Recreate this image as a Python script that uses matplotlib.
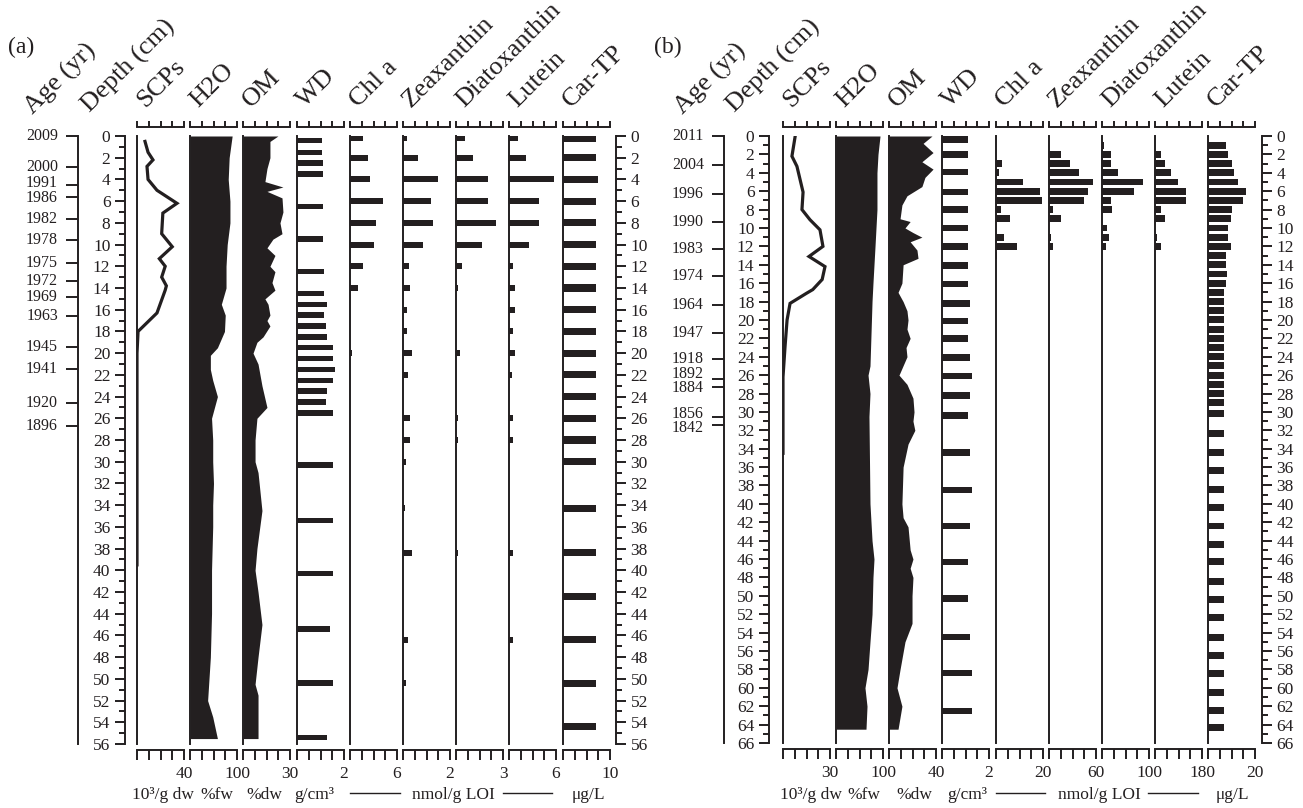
import numpy as np
import matplotlib
matplotlib.use('Agg')
import matplotlib.pyplot as plt
from matplotlib.lines import Line2D
from matplotlib.transforms import blended_transform_factory

plt.rcParams['font.family'] = ['Liberation Serif', 'DejaVu Serif']
INK = '#231f20'
W, H = 1303, 808

# ---------------- panel (a) ----------------
a_age_years = [2009, 2000, 1991, 1986, 1982, 1978, 1975, 1972, 1969, 1963, 1945, 1941, 1920, 1896]
a_age_depth = [0, 2.85, 4.5, 5.6, 7.6, 9.6, 11.7, 13.4, 14.8, 16.6, 19.4, 21.5, 24.6, 26.7]
a_age_nudge = [0, 0, -2, 1, 0, 0, 0, 0, 0, 0, 0, 0, 0, 0]   # label shift in px, + is down

a_scp_depth = [0.5, 1.5, 2.2, 2.8, 4.0, 5.0, 6.2, 7.1, 9.0, 10.2, 11.3, 12.0, 13.0, 13.8, 14.2, 16.3, 18.0, 20.0, 39.5]
a_scp = [6.8, 9.4, 13.6, 8.5, 9.4, 17, 34, 22, 21, 30, 19, 24, 21, 25, 24, 17, 0.9, 0, 0]

a_h2o_depth = [0, 2, 4, 6, 8, 10, 12, 14, 15.5, 16.5, 18, 19.5, 20.2, 21.5, 22.5, 24, 26, 28, 30, 32, 34, 36, 40, 44, 48, 52, 53.5, 55.5]
a_h2o = [93.8, 90, 88.8, 91, 91, 87.5, 86, 86, 80, 85, 84, 75, 66, 66, 69, 75, 67.5, 69, 69, 70, 69, 69, 67.5, 67.5, 66, 62.5, 69, 75]

a_om_depth = [0, 0.5, 2, 3, 4.2, 4.7, 5.1, 5.7, 7, 8, 9, 9.5, 10.3, 11, 12, 12.5, 13.5, 14.2, 15, 15.5, 16.5, 17, 17.5,
              18.5, 19, 20, 21, 23, 25, 26, 28, 30, 31, 34.5, 38, 40, 42, 45, 48, 50.5, 51.5, 55.5]
a_om = [22.3, 17.2, 17.2, 15.3, 14, 25.5, 15.3, 24.9, 25.5, 23.6, 24.9, 19.1, 15.3, 20.4, 17.2, 20.4, 18.5, 20.4, 14, 16, 17.2, 15.3, 17.2,
        12.8, 8.9, 6.4, 9.6, 12.1, 15.3, 8.9, 7.7, 7.7, 9.6, 12.1, 8.9, 7.7, 9.6, 12.1, 9.6, 7.7, 9.6, 9.6]

a_wd_depth = [0.4, 1.5, 2.5, 3.5, 6.5, 9.5, 12.5, 14.5, 15.5, 16.5, 17.5, 18.5, 19.5, 20.5, 21.5, 22.5, 23.5, 24.5, 25.5,
              30.3, 35.4, 40.3, 45.4, 50.4, 55.4]
a_wd = [1.06, 1.06, 1.11, 1.11, 1.11, 1.11, 1.15, 1.15, 1.28, 1.15, 1.23, 1.28, 1.53, 1.53, 1.62, 1.53, 1.28, 1.23, 1.53,
        1.53, 1.53, 1.53, 1.40, 1.53, 1.28]

a_pig_depth = [0.2, 2, 4, 6, 8, 10, 12, 14, 16, 18, 20, 22, 24, 26, 28, 30, 34.3, 38.4, 42.4, 46.4, 50.4, 54.4]
a_chl = [1.66, 2.3, 2.55, 4.2, 3.3, 3.1, 1.66, 1.0, 0, 0, 0.3, 0, 0, 0, 0, 0, 0, 0, 0, 0, 0, 0]
a_zea = [0.17, 0.64, 1.49, 1.19, 1.28, 0.85, 0.26, 0.30, 0.17, 0.17, 0.38, 0.21, 0, 0.30, 0.30, 0.13, 0.09, 0.38, 0, 0.21, 0.13, 0]
a_dia = [0.57, 1.08, 2.04, 2.04, 2.55, 1.66, 0.38, 0.13, 0, 0, 0.26, 0, 0, 0.13, 0.13, 0, 0, 0.13, 0, 0, 0, 0]
a_lut = [1.15, 2.17, 5.7, 3.8, 3.8, 2.55, 0.55, 0.77, 0.77, 0.55, 0.77, 0.4, 0, 0.55, 0.55, 0, 0, 0.55, 0, 0.55, 0, 0]
a_car = [7.0, 7.0, 7.4, 7.0, 7.0, 7.0, 7.0, 7.0, 7.0, 7.0, 7.0, 7.0, 7.0, 7.0, 7.0, 7.0, 7.0, 7.0, 7.0, 7.0, 7.0, 7.0]

# ---------------- panel (b) ----------------
b_age_years = [2011, 2004, 1996, 1990, 1983, 1974, 1964, 1947, 1918, 1892, 1884, 1856, 1842]
b_age_depth = [0, 3.2, 6.3, 9.3, 12.3, 15.2, 18.4, 21.4, 24.2, 26.4, 27.3, 30.5, 31.4]
b_age_nudge = [0, 0, 0, 0, 0, 0, 0, 0, 0, -5, 1, -3, 3]

b_scp_depth = [0.1, 2.2, 3.3, 6.1, 8, 9.1, 10.2, 12, 13.1, 14.2, 15.6, 16.7, 17.1, 18.2, 20, 22.9, 26.2, 34.5]
b_scp = [7.7, 5.7, 8.9, 12.8, 12.1, 17.2, 23.6, 25.5, 16.6, 26.8, 25, 19, 15, 4.5, 2.6, 1.3, 0, 0]

b_h2o_depth = [0, 2, 4, 8, 12, 16, 18, 25, 26, 28, 30.5, 40, 44, 46, 48, 52, 55, 58, 60, 62, 64.5]
b_h2o = [96.2, 93.6, 92.3, 92.3, 89.8, 87.2, 86, 83.4, 80.9, 83.4, 82.1, 83.4, 86, 88.5, 87.2, 86, 83.4, 80.9, 77, 79.6, 78.3]

b_om_depth = [0, 0.8, 1.8, 2.8, 3.6, 4.5, 5.5, 6.5, 7.5, 9, 9.3, 10, 10.5, 11, 11.5, 12.4, 13.3, 14, 16, 17,
              18, 19, 20, 21, 22, 23, 24, 26, 27, 28.5, 30, 31, 32, 33.5, 36, 40, 41.5, 42.5, 45, 46,
              47, 48, 50, 53, 55, 58, 60, 62, 64.5]
b_om = [36.6, 29, 37.5, 28, 37.5, 30.6, 28, 15.3, 11, 9.4, 18, 13.6, 20.4, 28, 18, 23.8, 24.7, 12, 11, 7.7,
        12, 15.3, 16.2, 15.3, 18, 14.5, 15.3, 8.5, 15.3, 20.4, 21.3, 20.4, 22, 16.2, 12, 11, 12, 16.2, 18, 20.4,
        18, 20.4, 19.6, 19.6, 13.6, 9.4, 6.8, 11, 7.7]

b_wd_depth = [0.4, 2, 3.9, 6.1, 8, 10, 12, 14.1, 16.1, 18.2, 20.1, 22, 24.1, 26.1, 28.2, 30.4, 34.4, 38.5, 42.4,
              46.3, 50.3, 54.5, 58.4, 62.5]
b_wd = [1.1, 1.1, 1.1, 1.1, 1.1, 1.1, 1.1, 1.1, 1.1, 1.19, 1.1, 1.1, 1.19, 1.28, 1.19, 1.1, 1.19, 1.28, 1.19,
        1.1, 1.1, 1.19, 1.28, 1.28]

b_pig_depth = [1, 2, 3, 4, 5, 6, 7, 8, 9, 10, 11, 12, 13]
b_chl = [0, 0, 2.6, 1.3, 11.5, 18.7, 19.6, 2.1, 6.0, 0, 3.4, 8.9, 0.4]
b_zea = [0, 15.3, 26.8, 38.3, 56.2, 49.8, 44.7, 5.1, 15.3, 0, 2.6, 5.1, 0]
b_dia = [4.3, 19, 19, 34, 87, 68, 19, 21, 0, 10.6, 15, 8.5, 0]
b_lut = [0, 23, 38, 61, 88, 119, 119, 23, 38, 0, 7.7, 23, 0]

b_car_depth = [1, 2, 3, 4, 5, 6, 7, 8, 9, 10, 11, 12, 13, 14, 15, 16, 17, 18, 19, 20, 21, 22, 23, 24, 25, 26, 27, 28,
               29, 30.2, 32.3, 34.4, 36.4, 38.4, 40.4, 42.4, 44.4, 46.3, 48.4, 50.4, 52.4, 54.5, 56.5, 58.4, 60.5,
               62.5, 64.3]
b_car = [7.7, 8.5, 10.2, 11, 12.8, 16.2, 14.9, 10.2, 9.8, 8.5, 8.5, 9.8, 7.7, 7.7, 8.1, 7.7, 6.8, 6.8, 6.8, 6.8,
         6.8, 6.8, 6.8, 6.8, 6.8, 6.8, 6.8, 6.8, 6.8, 6.8, 6.8, 6.8, 6.8, 6.8, 6.8, 6.8, 6.8, 6.8, 6.8, 6.8,
         6.8, 6.8, 6.8, 6.8, 6.8, 6.8, 6.8]

headers = ['SCPs', 'H2O', 'OM', 'WD', 'Chl a', 'Zeaxanthin', 'Diatoxanthin', 'Lutein', 'Car-TP']

fig = plt.figure(figsize=(W / 100, H / 100), dpi=100)
LW = 1.4


def fx(x):
    return x / W


def fy(y):
    return 1 - y / H


def column(left, top, bottom, dmax, xlim, end_label):
    ax = fig.add_axes([fx(left), fy(bottom), 47 / W, (bottom - top) / H])
    ax.patch.set_visible(False)
    ax.set_xlim(*xlim)
    ax.set_ylim(dmax, 0)
    ax.spines['top'].set_visible(False)
    ax.spines['right'].set_visible(False)
    ax.spines['left'].set_linewidth(LW)
    ax.spines['left'].set_color(INK)
    ax.spines['bottom'].set_position(('outward', 4))
    ax.spines['bottom'].set_linewidth(LW)
    ax.spines['bottom'].set_color(INK)
    ax.set_yticks([])
    ticks = np.linspace(xlim[0], xlim[1], 5)
    ax.set_xticks(ticks)
    ax.set_xticklabels([''] * 4 + [end_label])
    ax.tick_params(axis='x', direction='out', length=7, width=LW, pad=4.5,
                   labelsize=12.5, color=INK, labelcolor=INK)
    sec = ax.secondary_xaxis(1 + 9 / (bottom - top))
    sec.set_xticks(ticks)
    sec.set_xticklabels([])
    sec.tick_params(direction='out', length=4.5, width=LW, color=INK)
    sec.spines['top'].set_linewidth(LW)
    sec.spines['top'].set_color(INK)
    return ax


def vaxis(x, top, bottom, dmax, side, ticks, labels, minor, major, pad, size):
    ax = fig.add_axes([fx(x), fy(bottom), 1e-5, (bottom - top) / H])
    ax.patch.set_visible(False)
    ax.set_ylim(dmax, 0)
    ax.set_xticks([])
    for s in ax.spines.values():
        s.set_visible(False)
    ax.spines[side].set_visible(True)
    ax.spines[side].set_linewidth(LW)
    ax.spines[side].set_color(INK)
    if side == 'right':
        ax.yaxis.tick_right()
    ax.set_yticks(ticks)
    ax.set_yticklabels(labels)
    if minor is not None:
        ax.set_yticks(minor, minor=True)
    ax.tick_params(axis='y', which='major', direction='out', length=major, width=LW,
                   pad=pad, labelsize=size, color=INK, labelcolor=INK)
    ax.tick_params(axis='y', which='minor', direction='out', length=major * 0.55, width=LW, color=INK)
    return ax


def panel(lefts, age_x, depth_x, right_x, top, bottom, dmax, data, ends, age, unit_x, line_x, tag, tag_x,
          age_hdr_x, depth_hdr_x):
    scp_d, scp, h2o_d, h2o, om_d, om, wd_d, wd, pig_d, pigs, car_d, car, barh_h = data
    limits = [(0, float(ends[0])), (40, 100), (0, float(ends[2])), (0, 2), (0, float(ends[4])), (0, float(ends[5])),
              (0, float(ends[6])), (0, float(ends[7])), (0, float(ends[8]))]
    axs = [column(l, top, bottom, dmax, lim, e) for l, lim, e in zip(lefts, limits, ends)]

    axs[0].plot(scp, scp_d, color=INK, lw=2.3, solid_joinstyle='miter')
    axs[1].fill_betweenx(h2o_d, 40, h2o, color=INK, lw=0)
    axs[2].fill_betweenx(om_d, 0, om, color=INK, lw=0)
    axs[3].barh(wd_d, wd, height=barh_h[0], color=INK, lw=0)
    for ax, vals in zip(axs[4:8], pigs):
        ax.barh(pig_d, vals, height=barh_h[1], color=INK, lw=0)
    axs[8].barh(car_d, car, height=barh_h[2], color=INK, lw=0)

    # age axis: ticks from the axis, labels placed as text so close pairs can be nudged apart
    years, depths, nudge = age
    aax = vaxis(age_x, top, bottom, dmax, 'left', depths, [''] * len(depths), None, 8.5, 6, 11.5)
    px_per_cm = (bottom - top) / dmax
    tr = blended_transform_factory(fig.transFigure, aax.transData)
    for yr, d, n in zip(years, depths, nudge):
        aax.text(fx(age_x - 20), d + n / px_per_cm, str(yr), transform=tr, ha='right', va='center',
                 fontsize=11.5, color=INK)
    # depth axes
    dt = np.arange(0, dmax + 1, 2)
    dm = np.arange(0, dmax + 1, 1)
    vaxis(depth_x, top, bottom, dmax, 'left', dt, [str(int(v)) for v in dt], dm, 7.5, 3, 12.5)
    vaxis(right_x, top, bottom, dmax, 'right', dt, [str(int(v)) for v in dt], dm, 7.5, 3, 12.5)

    # headers
    hdr = dict(rotation=45, rotation_mode='anchor', ha='left', va='baseline', fontsize=19, color=INK)
    fig.text(fx(age_hdr_x), fy(115), 'Age (yr)', **hdr)
    fig.text(fx(depth_hdr_x), fy(113), 'Depth (cm)', **hdr)
    for l, name in zip(lefts, headers):
        fig.text(fx(l + 8), fy(108), name, **hdr)
    fig.text(fx(tag_x), fy(53), tag, fontsize=17, color=INK, ha='left', va='baseline')

    # unit row
    units = ['10³/g dw', '%fw', '%dw', 'g/cm³', 'nmol/g LOI', 'μg/L']
    for ux, u in zip(unit_x, units):
        fig.text(fx(ux), fy(795), u, fontsize=12.5, color=INK, ha='center', va='center')
    for x0, x1 in line_x:
        fig.add_artist(Line2D([fx(x0), fx(x1)], [fy(793), fy(793)], color=INK, lw=1.0))


panel([137, 190, 243, 297, 350, 403, 456, 509, 563], 78, 125, 616, 136, 744, 56,
      (a_scp_depth, a_scp, a_h2o_depth, a_h2o, a_om_depth, a_om, a_wd_depth, a_wd, a_pig_depth,
       [a_chl, a_zea, a_dia, a_lut], a_pig_depth, a_car, (0.5, 0.55, 0.65)),
      ['40', '100', '30', '2', '6', '2', '3', '6', '10'], (a_age_years, a_age_depth, a_age_nudge),
      [163, 217, 264, 314, 453, 588], [(350, 400), (503, 552)], '(a)', 8, 33, 90)

panel([783, 836, 889, 942, 996, 1049, 1102, 1155, 1208], 724, 769, 1262, 136, 743, 66,
      (b_scp_depth, b_scp, b_h2o_depth, b_h2o, b_om_depth, b_om, b_wd_depth, b_wd, b_pig_depth,
       [b_chl, b_zea, b_dia, b_lut], b_car_depth, b_car, (0.7, 0.75, 0.75)),
      ['30', '100', '40', '2', '20', '60', '100', '180', '20'], (b_age_years, b_age_depth, b_age_nudge),
      [811, 864, 914, 967, 1099, 1232], [(996, 1045), (1148, 1198)], '(b)', 654, 683, 735)

fig.savefig('out.png', dpi=100)
